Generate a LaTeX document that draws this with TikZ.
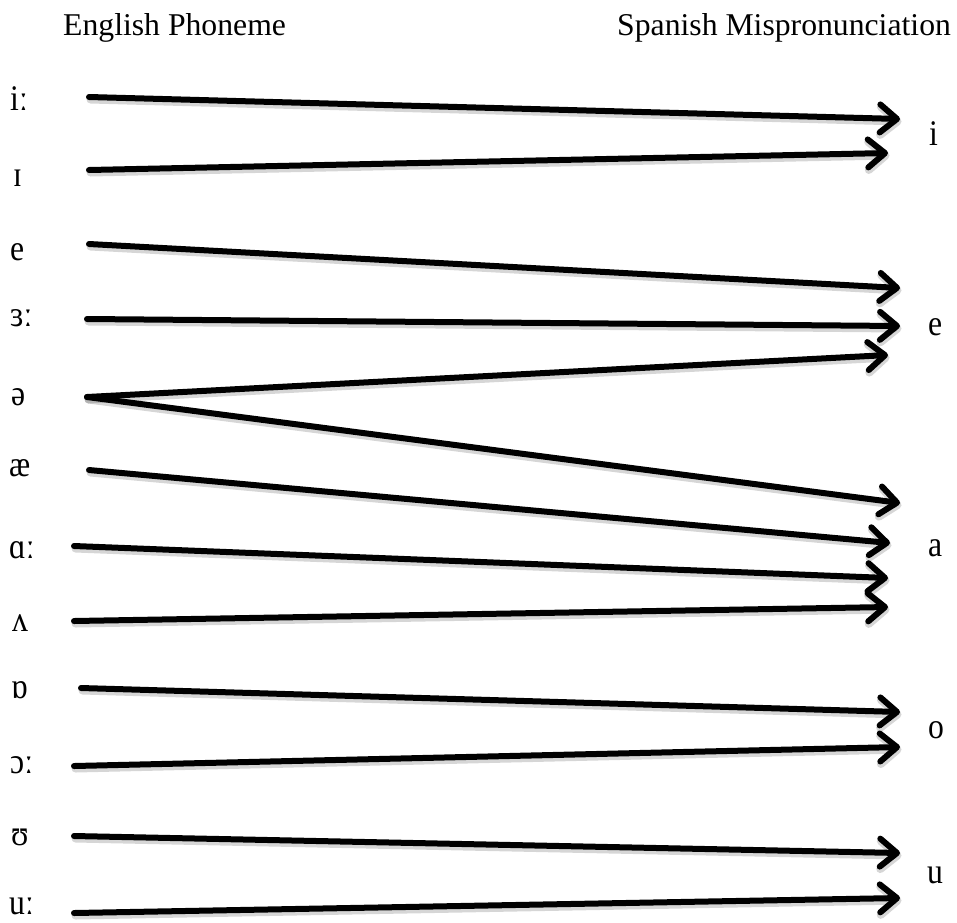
\documentclass[tikz,border=0pt]{standalone}
\usepackage{fontspec}
\setmainfont{Liberation Serif}
\usetikzlibrary{arrows.meta}
\newcommand{\tallglyph}[1]{\scalebox{0.88}[1]{#1}}
\begin{document}
\begin{tikzpicture}[x=1pt,y=-1pt,
  link/.style={line width=6pt, line cap=round,
    -{Straight Barb[length=17pt,width=28pt,round]}},
  linkshadow/.style={link, draw=black, opacity=0.16, line width=8pt,
    transform canvas={shift={(1.5pt,-2.5pt)}}},
  phon/.style={anchor=base west, inner sep=0pt, font=\fontsize{36}{38}\selectfont},
  spn/.style={anchor=base west, inner sep=0pt, font=\fontsize{36}{38}\selectfont},
  head/.style={anchor=base west, inner sep=0pt, font=\fontsize{31.7}{34}\selectfont}]
\useasboundingbox (0,0) rectangle (957,922);

% column headings
\node[head] (hEng) at (63,35) {English Phoneme};
\node[head] (hSpa) at (617,35) {Spanish Mispronunciation};

% English phonemes
\node[phon] (pI)   at (10,110) {\tallglyph{iː}};
\node[phon] (pi)   at (13,186) {\tallglyph{ɪ}};
\node[phon] (pe)   at (10,260) {\tallglyph{e}};
\node[phon] (pEr)  at (10,326) {\tallglyph{ɜː}};
\node[phon] (pSch) at (11,405) {\tallglyph{ə}};
\node[phon] (pAe)  at (9,476)  {\tallglyph{æ}};
\node[phon] (pA)   at (9,558)  {\tallglyph{ɑː}};
\node[phon] (pV)   at (12,631) {\tallglyph{ʌ}};
\node[phon] (pO)   at (11,698) {\tallglyph{ɒ}};
\node[phon] (pOr)  at (10,773) {\tallglyph{ɔː}};
\node[phon] (pU)   at (11,845) {\tallglyph{ʊ}};
\node[phon] (pUr)  at (9,914)  {\tallglyph{uː}};

% Spanish vowels
\node[spn] (si) at (929,145) {\tallglyph{i}};
\node[spn] (se) at (928,335) {\tallglyph{e}};
\node[spn] (sa) at (928,556) {\tallglyph{a}};
\node[spn] (so) at (928,738) {\tallglyph{o}};
\node[spn] (su) at (927,883) {\tallglyph{u}};

% arrow end points
\coordinate (s1)  at (89,97);   \coordinate (t1)  at (900,119);
\coordinate (s2)  at (89,170);  \coordinate (t2)  at (888,153);
\coordinate (s3)  at (89,244);  \coordinate (t3)  at (900,288);
\coordinate (s4)  at (87,319);  \coordinate (t4)  at (900,326);
\coordinate (s5)  at (87,397);  \coordinate (t5)  at (888,355);
\coordinate (t6)  at (900,503);
\coordinate (s7)  at (89,470);  \coordinate (t7)  at (890,543);
\coordinate (s8)  at (74,546);  \coordinate (t8)  at (888,578);
\coordinate (s9)  at (74,621);  \coordinate (t9)  at (888,607);
\coordinate (s10) at (81,688);  \coordinate (t10) at (900,712);
\coordinate (s11) at (74,766);  \coordinate (t11) at (900,747);
\coordinate (s12) at (74,836);  \coordinate (t12) at (900,853);
\coordinate (s13) at (74,913);  \coordinate (t13) at (900,898);

% mappings: soft shadow first, then the arrow itself
\foreach \a/\b in {s1/t1,s2/t2,s3/t3,s4/t4,s5/t5,s5/t6,s7/t7,s8/t8,s9/t9,s10/t10,s11/t11,s12/t12,s13/t13}{
  \draw[linkshadow] (\a) -- (\b);
}
\foreach \a/\b in {s1/t1,s2/t2,s3/t3,s4/t4,s5/t5,s5/t6,s7/t7,s8/t8,s9/t9,s10/t10,s11/t11,s12/t12,s13/t13}{
  \draw[link] (\a) -- (\b);
}
\end{tikzpicture}
\end{document}
